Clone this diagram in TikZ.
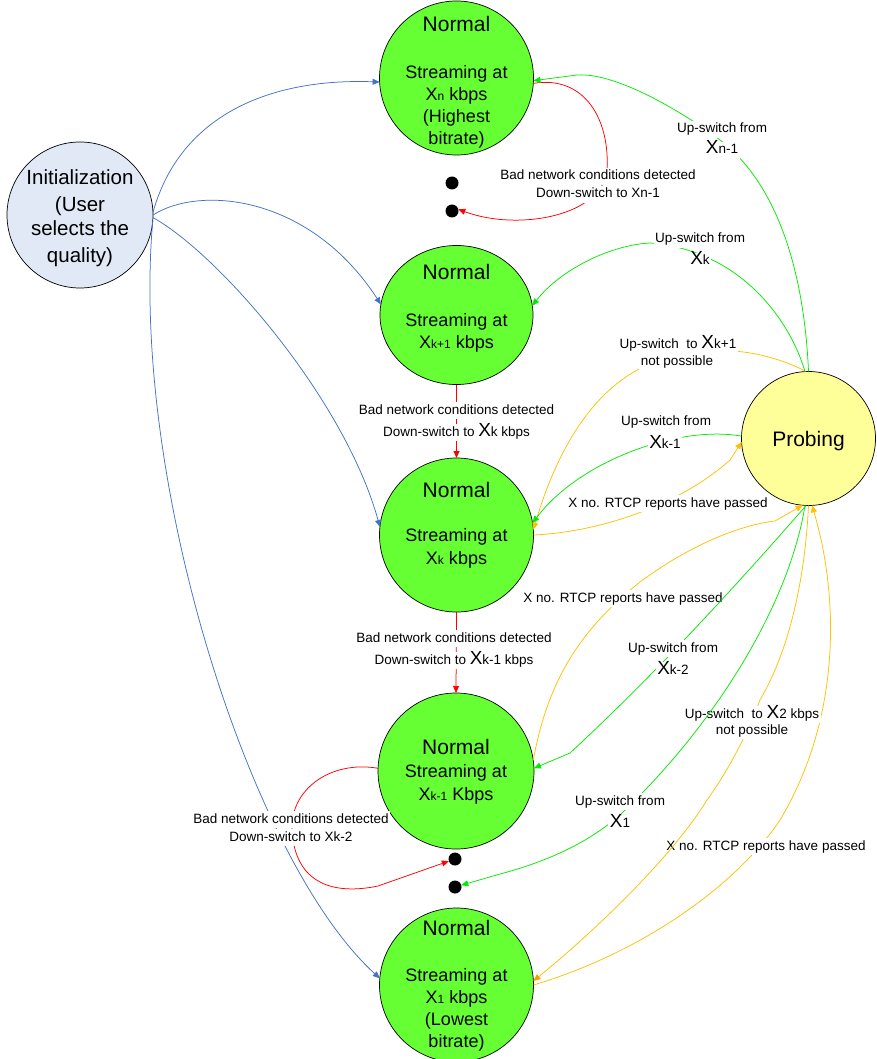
\documentclass[tikz,border=0pt]{standalone}
\usepackage{fontspec}
\setmainfont{Liberation Sans}
\usetikzlibrary{arrows.meta,shapes.geometric}

\definecolor{stategreen}{RGB}{102,255,51}
\definecolor{probefill}{RGB}{255,255,153}
\definecolor{initfill}{RGB}{226,233,246}
\definecolor{upgreen}{RGB}{0,235,0}
\definecolor{initblue}{RGB}{68,114,196}
\definecolor{gold}{RGB}{255,192,0}
\definecolor{darkgold}{RGB}{255,153,0}
\definecolor{downred}{RGB}{255,0,0}

% font sizes
\newcommand{\fnorm}{\fontsize{21}{21}\selectfont}
\newcommand{\fbody}{\fontsize{18}{22}\selectfont}
\newcommand{\flab}{\fontsize{13.5}{16}\selectfont}
% bitrate names: X followed by a small index
\newcommand{\sx}[1]{X{\fontsize{12}{12}\selectfont #1}}
\newcommand{\lx}[1]{{\fontsize{19}{19}\selectfont X}#1}

\begin{document}
\begin{tikzpicture}[x=1pt,y=-1pt,
  every node/.style={inner sep=0pt, outer sep=0pt},
  state/.style={circle, draw=black, line width=0.7pt, fill=stategreen, minimum size=154pt},
  probe/.style={circle, draw=black, line width=0.7pt, fill=probefill, minimum size=134pt},
  initst/.style={circle, draw=black, line width=0.7pt, fill=initfill, minimum size=146pt},
  dotst/.style={circle, fill=black, minimum size=13pt},
  txt/.style={anchor=base},
  lbl/.style={anchor=base, fill=white, font=\flab, text height=11pt, text depth=4pt, inner xsep=1.5pt, inner ysep=1pt},
  conn/.style={line width=0.75pt, -{Triangle[length=7pt,width=6pt]}},
  blueln/.style={conn, initblue},
  redln/.style={conn, downred},
  grnln/.style={conn, upgreen},
  orgln/.style={conn, gold},
]
\useasboundingbox (0,0) rectangle (876,1059);

% ---------- states ----------
\node[initst] (init) at (80,215) {};
\node[state] (xn) at (456.5,78) {};
\node[state, ellipse, minimum width=153pt, minimum height=139pt] (xk1) at (456.5,315) {};
\node[state] (xk) at (456.5,535) {};
\node[state, minimum size=156pt] (xkm) at (456,771) {};
\node[state] (x1) at (456.5,985) {};
\node[probe] (pr) at (808.5,438.5) {};

\node[dotst] (d1) at (452,183) {};
\node[dotst] (d2) at (452,211) {};
\node[dotst] (d3) at (455,859) {};
\node[dotst] (d4) at (455,887) {};

% ---------- state texts ----------
\begin{scope}[every node/.append style={txt}]
\node[font=\fontsize{20.5}{20.5}\selectfont] (i1) at (80,185) {Initialization};
\node[font=\fontsize{20.5}{20.5}\selectfont] (i2) at (80,211.5) {(User};
\node[font=\fontsize{20.5}{20.5}\selectfont] (i3) at (80,236) {selects the};
\node[font=\fontsize{20.5}{20.5}\selectfont] (i4) at (80,262) {quality)};

\node[font=\fnorm] (n1) at (456.5,31.5) {Normal};
\node[font=\fbody] (n2) at (456.5,78.5) {Streaming at};
\node[font=\fbody] (n3) at (456.5,100.5) {\sx{n} kbps};
\node[font=\fbody] (n4) at (456.5,122.5) {(Highest};
\node[font=\fbody] (n5) at (456.5,144.5) {bitrate)};

\node[font=\fnorm] (k1a) at (456.5,279.5) {Normal};
\node[font=\fbody] (k1b) at (456.5,326) {Streaming at};
\node[font=\fbody] (k1c) at (456.5,348) {\sx{k+1} kbps};

\node[font=\fnorm] (ka) at (456.5,497) {Normal};
\node[font=\fbody] (kb) at (456.5,541.5) {Streaming at};
\node[font=\fbody] (kc) at (456.5,564.5) {\sx{k} kbps};

\node[font=\fnorm] (kma) at (456,754.5) {Normal};
\node[font=\fbody] (kmb) at (456,777.5) {Streaming at};
\node[font=\fbody] (kmc) at (456,800.5) {\sx{k-1} Kbps};

\node[font=\fnorm] (oa) at (456.5,935) {Normal};
\node[font=\fbody] (ob) at (456.5,981) {Streaming at};
\node[font=\fbody] (oc) at (456.5,1003) {\sx{1} kbps};
\node[font=\fbody] (od) at (456.5,1025) {(Lowest};
\node[font=\fbody] (oe) at (456.5,1047) {bitrate)};

\node[font=\fnorm] (pt) at (808.5,446) {Probing};
\end{scope}

% ---------- initial choice ----------
\draw[blueln] (init.2) .. controls (180,115) and (270,78) .. (xn.183);
\draw[blueln] (init.0) .. controls (200,185) and (310,195) .. (xk1.172);
\draw[blueln] (init.-2) .. controls (220,255) and (345,400) .. (xk.174);
\draw[blueln] (init.-5) .. controls (130,480) and (250,860) .. (x1.175);

% ---------- down-switches ----------
\draw[redln] (xn.-4) .. controls (585,75) and (610,120) .. (607,170)
  .. controls (603,215) and (520,232) .. (d2.15);
\node[lbl] (r1a) at (598,180) {Bad network conditions detected};
\node[lbl] (r1b) at (598,198) {Down-switch to Xn-1};

\draw[redln] (xk1.south) -- (xk.north);
\node[lbl] (r2a) at (456.5,414) {Bad network conditions detected};
\node[lbl] (r2b) at (456.5,436) {Down-switch to \lx{k kbps}};

\draw[redln] (xk.south) -- (xkm.north);
\node[lbl] (r3a) at (454,642) {Bad network conditions detected};
\node[lbl] (r3b) at (454,664) {Down-switch to \lx{k-1 kbps}};

\draw[redln] (xkm.178) .. controls (330,760) and (290,790) .. (292,830)
  .. controls (295,885) and (335,895) .. (378,886) -- (d3.199);
\node[lbl] (r4a) at (291,823) {Bad network conditions detected};
\node[lbl] (r4b) at (291,841) {Down-switch to Xk-2};

% ---------- probing results and timeouts ----------
\draw[orgln] (pr.92) .. controls (775,355) and (720,340) .. (660,360)
  .. controls (600,380) and (560,440) .. (xk.4);
\node[lbl] (o1a) at (678,348) {Up-switch~ to \lx{k+1}};
\node[lbl] (o1b) at (677,365) {not possible};

\draw[orgln] (xk.0) .. controls (600,532) and (680,505) .. (730,460) -- (pr.183);
\node[lbl] (o2) at (668,507) {X no. RTCP reports have passed};

\draw[orgln] (xkm.8) .. controls (548,680) and (580,630) .. (640,582)
  .. controls (690,545) and (740,525) .. (775,521) -- (pr.265);
\node[lbl] (o3) at (623,602) {X no. RTCP reports have passed};

\draw[orgln] (x1.0) .. controls (650,950) and (740,880) .. (780,820)
  .. controls (840,720) and (840,600) .. (pr.273);
\node[lbl] (o4) at (766,850) {X no. RTCP reports have passed};

\draw[conn, gold, -{Triangle[length=7pt,width=6pt,color=darkgold]}]
  (pr.270) .. controls (806,560) and (795,640) .. (760,700)
  .. controls (745,740) and (725,775) .. (707,800)
  .. controls (670,860) and (590,935) .. (x1.3);
\node[lbl] (o5a) at (752,718) {Up-switch~ to \lx{2 kbps}};
\node[lbl] (o5b) at (752,734) {not possible};

% ---------- up-switches ----------
\draw[grnln] (pr.90) .. controls (805,290) and (785,190) .. (720,140)
  .. controls (694,120) and (620,72) .. (577,75) -- (xn.-2);
\node[lbl] (g1a) at (722,133) {Up-switch from};
\node[lbl] (g1b) at (722,154) {\lx{n-1}};

\draw[grnln] (pr.93) .. controls (790,320) and (740,250) .. (650,243)
  .. controls (610,245) and (560,270) .. (xk1.7);
\node[lbl] (g2a) at (700,243) {Up-switch from};
\node[lbl] (g2b) at (700,265) {\lx{k}};

\draw[grnln] (pr.178) .. controls (680,425) and (580,460) .. (xk.9);
\node[lbl] (g3a) at (666,425) {Up-switch from};
\node[lbl] (g3b) at (665,448) {\lx{k-1}};

\draw[grnln] (pr.268) .. controls (750,570) and (660,670) .. (570,753) -- (xkm.2);
\node[lbl] (g4a) at (673,652) {Up-switch from};
\node[lbl] (g4b) at (673,674) {\lx{k-2}};

\draw[grnln] (pr.267) .. controls (790,600) and (720,720) .. (620,815)
  .. controls (580,850) and (530,866) .. (500,874) -- (d4.16);
\node[lbl] (g5a) at (620,805) {Up-switch from};
\node[lbl] (g5b) at (620,827) {\lx{1}};
\end{tikzpicture}
\end{document}
